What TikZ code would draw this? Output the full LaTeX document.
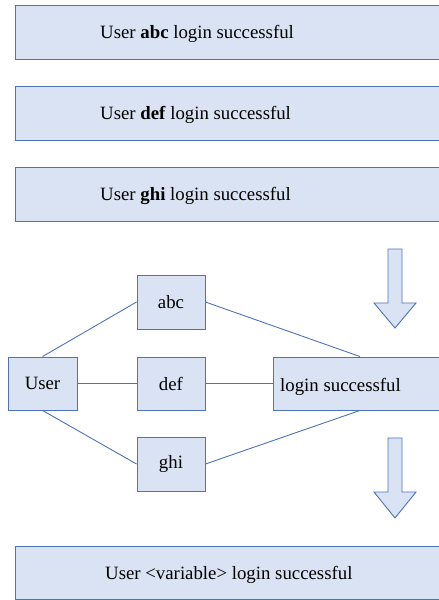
\documentclass[tikz,border=0pt]{standalone}
\usepackage{fontspec}
\setmainfont{Liberation Serif}[BoldFont={Liberation Serif Bold}]
\definecolor{boxfill}{HTML}{DAE3F3}
\definecolor{boxline}{HTML}{5072B8}
\begin{document}
\begin{tikzpicture}[x=1pt,y=-1pt,
  box/.style={draw=boxline,fill=boxfill,line width=0.9pt},
  txt/.style={font=\fontsize{18.8}{21}\selectfont},
  lbl/.style={txt,inner sep=0pt,anchor=base west},
  gbox/.style={box,txt,inner sep=0pt,minimum width=68pt,minimum height=53pt},
  conn/.style={draw=boxline,line width=0.9pt}]
\useasboundingbox (0,0) rectangle (439,600);
\clip (0,0) rectangle (439,600);
% top boxes
\draw[box] (15,5) rectangle (445,59);
\node[lbl] (t1) at (100,38) {User \textbf{abc} login successful};
\draw[box] (15,86) rectangle (445,140);
\node[lbl] (t2) at (100,119) {User \textbf{def} login successful};
\draw[box] (15,167) rectangle (445,221);
\node[lbl] (t3) at (100,200) {User \textbf{ghi} login successful};
% graph
\node[gbox,minimum width=69pt] (user) at (42.5,383.5) {User};
\node[gbox,minimum height=54pt] (abc) at (171,302) {abc};
\node[gbox] (def) at (171,383.5) {def};
\node[gbox,minimum height=54pt] (ghi) at (171,464) {ghi};
\node[box,minimum width=180pt,minimum height=53pt,inner sep=0pt,anchor=west] (login) at (273,383.5) {};
\node[lbl] (logintxt) at (280,391) {login successful};
\path[conn] (user.north) -- (abc.west);
\path[conn] (abc.east) -- (login.north west -| 360,0);
\path[conn] (user.east) -- (def.west);
\path[conn] (def.east) -- (login.west);
\path[conn] (user.south) -- (ghi.west);
\path[conn] (ghi.east) -- (login.south west -| 360,0);
% arrows
\draw[box,line join=miter] (388,249) -- (402,249) -- (402,303) -- (416,303) -- (395,328) -- (374,303) -- (388,303) -- cycle;
\draw[box,line join=miter] (388,438) -- (402,438) -- (402,492) -- (416,492) -- (395,518) -- (374,492) -- (388,492) -- cycle;
% bottom box
\draw[box] (15,546) rectangle (445,599);
\node[lbl] (t4) at (105,579) {User <variable> login successful};
\end{tikzpicture}
\end{document}
